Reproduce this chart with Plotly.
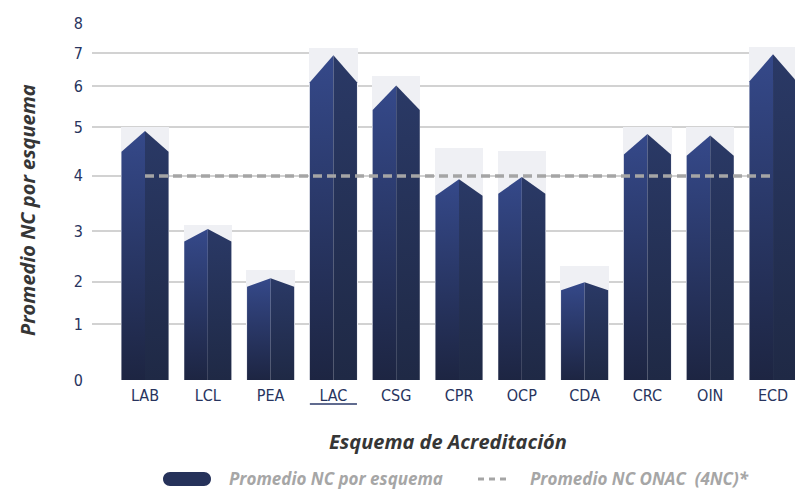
import numpy as np
import plotly.graph_objects as go

# datos
categorias = ["LAB", "LCL", "PEA", "LAC", "CSG", "CPR", "OCP", "CDA", "CRC", "OIN", "ECD"]
promedio_nc = [4.92, 3.04, 2.07, 6.93, 6.02, 3.94, 3.98, 1.99, 4.86, 4.83, 6.96]
fondo_nc = [5.0, 3.11, 2.23, 7.15, 6.3, 4.57, 4.51, 2.32, 5.0, 5.0, 7.19]
promedio_onac = 4

# el eje vertical del original no es lineal: posición de cada marca
ticks_valores = [0, 1, 2, 3, 4, 5, 6, 7, 8]
ticks_posicion = [0, 1.247, 2.201, 3.336, 4.574, 5.665, 6.583, 7.328, 8]


def escala(v):
    return np.interp(v, ticks_valores, ticks_posicion)


# plot area in pixels (for legend / titles placed by hand)
L, R, T, B = 92, 4, 23, 110
W, H = 799, 490
PW, PH = W - L - R, H - T - B


def px_x(p):
    return (p - L) / PW


def px_y(p):
    return (H - B - p) / PH


fig = go.Figure()
idx = np.arange(len(categorias))

fig.add_trace(go.Bar(
    x=idx, y=escala(fondo_nc), width=0.77,
    marker=dict(color="#eff0f4", line_width=0),
    hoverinfo="skip", showlegend=False,
))

w = 0.375
for i, v in enumerate(promedio_nc):
    pico = float(escala(v))
    hombro = pico * 0.917
    # cara izquierda
    fig.add_trace(go.Scatter(
        x=[i - w, i - w, i, i, i - w], y=[0, hombro, pico, 0, 0],
        mode="none", fill="toself",
        fillgradient=dict(type="vertical", colorscale=[[0, "#1d2542"], [1, "#35498a"]]),
        hoverinfo="skip", showlegend=False,
    ))
    # cara derecha
    fig.add_trace(go.Scatter(
        x=[i, i, i + w, i + w, i], y=[0, pico, hombro, 0, 0],
        mode="none", fill="toself",
        fillgradient=dict(type="vertical", colorscale=[[0, "#1f2945"], [1, "#2a3966"]]),
        hoverinfo="skip", showlegend=False,
    ))

fig.add_trace(go.Scatter(
    x=[idx[0], idx[-1]], y=[escala(promedio_onac)] * 2, mode="lines",
    line=dict(color="#a5a5a5", width=3.5, dash="9px,5px"),
    hoverinfo="skip", showlegend=False,
))

tick_font = dict(family="DejaVu Sans Condensed, Liberation Sans Narrow, sans-serif", size=16, color="#28345e")
title_font = dict(family="Open Sans, sans-serif", size=20, color="#363636", weight="bold", style="italic")
leg_font = dict(family="Open Sans, sans-serif", size=17, color="#a6a6a6", weight="bold", style="italic")

fig.update_layout(
    width=W, height=H,
    margin=dict(l=L, r=R, t=T, b=B),
    plot_bgcolor="white", paper_bgcolor="white",
    bargap=0,
)
fig.update_xaxes(
    range=[-0.844, 10.35], tickvals=idx, ticktext=categorias,
    showgrid=False, zeroline=False, showline=False, ticks="",
    tickfont=tick_font, ticklabelstandoff=4,
)
fig.update_yaxes(
    range=[0, 8], tickvals=ticks_posicion, ticktext=[str(t) for t in ticks_valores],
    showgrid=True, gridcolor="#d2d2d2", gridwidth=1.5,
    zeroline=False, showline=False, ticks="",
    tickfont=tick_font, ticklabelstandoff=8,
)


def pill_path(x0, x1, y0, y1):
    r = (y1 - y0) / 2
    k = r * 0.552
    yc = (y0 + y1) / 2
    pts = [
        ("M", [(x0 + r, y1)]),
        ("L", [(x1 - r, y1)]),
        ("C", [(x1 - r + k, y1), (x1, yc + k), (x1, yc)]),
        ("C", [(x1, yc - k), (x1 - r + k, y0), (x1 - r, y0)]),
        ("L", [(x0 + r, y0)]),
        ("C", [(x0 + r - k, y0), (x0, yc - k), (x0, yc)]),
        ("C", [(x0, yc + k), (x0 + r - k, y1), (x0 + r, y1)]),
    ]
    s = ""
    for cmd, ps in pts:
        s += cmd + " " + " ".join(f"{px_x(a):.5f},{px_y(b):.5f}" for a, b in ps) + " "
    return s + "Z"


fig.add_shape(type="path", xref="paper", yref="paper", path=pill_path(163, 211, 472, 486),
              fillcolor="#26325a", line_width=0)
fig.add_shape(type="line", xref="paper", yref="paper",
              x0=px_x(478), x1=px_x(506), y0=px_y(479), y1=px_y(479),
              line=dict(color="#a5a5a5", width=3, dash="6px,5px"))
# subrayado bajo LAC
fig.add_shape(type="line", xref="x", yref="paper", x0=3 - w, x1=3 + w,
              y0=px_y(404), y1=px_y(404), line=dict(color="#2b3a6a", width=1.5))

fig.add_annotation(text="Promedio NC por esquema", xref="paper", yref="paper",
                   x=px_x(227), y=px_y(479), xanchor="left", yanchor="middle",
                   showarrow=False, font=leg_font)
fig.add_annotation(text="Promedio NC ONAC  (4NC)*", xref="paper", yref="paper",
                   x=px_x(528), y=px_y(479), xanchor="left", yanchor="middle",
                   showarrow=False, font=leg_font)
fig.add_annotation(text="Esquema de Acreditación", xref="paper", yref="paper",
                   x=px_x(448), y=px_y(441), xanchor="center", yanchor="middle",
                   showarrow=False, font=title_font)
fig.add_annotation(text="Promedio NC por esquema", xref="paper", yref="paper",
                   x=px_x(27), y=px_y(210), xanchor="center", yanchor="middle",
                   textangle=-90, showarrow=False, font=title_font)

fig.write_html("out.html", config={"displayModeBar": False},
               post_script="document.body.style.margin = '0';")
